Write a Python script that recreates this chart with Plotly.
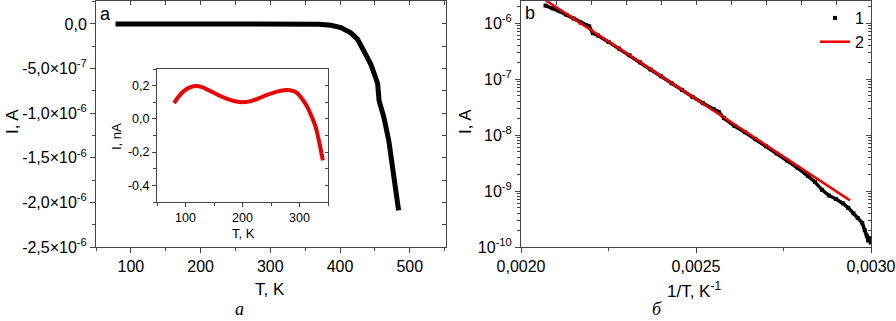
import plotly.graph_objects as go

# ---------------- data ----------------
# Panel a (main): I(T)
T_main = [78, 150, 250, 350, 370, 387, 401, 415, 425, 434, 444, 451, 454, 456, 463, 470, 477, 484]
I_main = [0, 0, 0, 0, -0.3e-8, -1.5e-8, -4e-8, -9.7e-8, -1.7e-7, -3.0e-7, -4.5e-7, -6.0e-7,
          -6.7e-7, -8.6e-7, -1.05e-6, -1.31e-6, -1.68e-6, -2.09e-6]

# Panel a (inset): I(T), nA
T_inset = [80, 88, 97, 107, 117, 130, 144, 158, 173, 187, 201, 216, 231, 243, 255, 267, 278, 288,
           296, 305, 313, 320, 328, 334, 341]
I_inset = [0.095, 0.135, 0.167, 0.188, 0.197, 0.190, 0.167, 0.142, 0.121, 0.106, 0.100, 0.108,
           0.127, 0.144, 0.158, 0.169, 0.173, 0.168, 0.155, 0.118, 0.076, 0.025, -0.045, -0.13, -0.250]

# Panel b: data (1) and fit (2)
invT_data = [0.002070, 0.002090, 0.002110, 0.002130, 0.002150, 0.002170, 0.002185, 0.002195,
             0.002205, 0.002220, 0.002250, 0.002280, 0.002310, 0.002340, 0.002370, 0.002400,
             0.002430, 0.002460, 0.002490, 0.002520, 0.002550, 0.002565, 0.002580, 0.002610,
             0.002640, 0.002670, 0.002700, 0.002730, 0.002760, 0.002790, 0.002820, 0.002840,
             0.002860, 0.002880, 0.002900, 0.002920, 0.002935, 0.002950, 0.002962, 0.002975,
             0.002982, 0.002988, 0.002992, 0.002996, 0.002999]
I_data = [2.05e-6, 1.83e-6, 1.62e-6, 1.40e-6, 1.20e-6, 1.02e-6, 9.2e-7, 8.7e-7,
          6.6e-7, 6.0e-7, 4.6e-7, 3.5e-7, 2.65e-7, 1.98e-7, 1.48e-7, 1.12e-7,
          8.4e-8, 6.4e-8, 4.8e-8, 3.7e-8, 2.9e-8, 2.6e-8, 2.0e-8, 1.45e-8,
          1.12e-8, 8.4e-9, 6.3e-9, 4.7e-9, 3.5e-9, 2.6e-9, 1.85e-9, 1.45e-9,
          1.05e-9, 8.3e-10, 7.2e-10, 6.0e-10, 5.0e-10, 4.0e-10, 3.3e-10, 2.7e-10,
          2.0e-10, 1.6e-10, 1.3e-10, 1.45e-10, 1.2e-10]
invT_fit = [0.00207, 0.00294]
I_fit = [2.56e-6, 6.8e-10]

# tick labels
a_x_ticks = [100, 200, 300, 400, 500]
a_y_ticks = [0, -5e-7, -1e-6, -1.5e-6, -2e-6, -2.5e-6]
a_y_text = ["0,0", "-5,0×10<sup>-7</sup>", "-1,0×10<sup>-6</sup>", "-1,5×10<sup>-6</sup>",
            "-2,0×10<sup>-6</sup>", "-2,5×10<sup>-6</sup>"]
in_x_ticks = [100, 200, 300]
in_y_ticks = [0.2, 0.0, -0.2, -0.4]
in_y_text = ["0,2", "0,0", "-0,2", "-0,4"]
b_x_ticks = [0.0020, 0.0025, 0.0030]
b_x_text = ["0,0020", "0,0025", "0,0030"]
b_y_ticks = [1e-10, 1e-9, 1e-8, 1e-7, 1e-6]
b_y_text = ["10<sup>-10</sup>", "10<sup>-9</sup>", "10<sup>-8</sup>", "10<sup>-7</sup>", "10<sup>-6</sup>"]

# ---------------- figure ----------------
W, H = 896, 321
FONT = "Liberation Sans, Arial, sans-serif"
AX = "#444"


def px(x):
    return x / W


def py(y):
    return 1 - y / H


fig = go.Figure()

fig.add_trace(go.Scatter(x=T_main, y=I_main, mode="lines", line=dict(color="black", width=5),
                         xaxis="x", yaxis="y", showlegend=False, hoverinfo="skip"))
fig.add_trace(go.Scatter(x=[None], y=[None], xaxis="x4", yaxis="y4", showlegend=False, hoverinfo="skip"))
fig.add_trace(go.Scatter(x=T_inset, y=I_inset, mode="lines",
                         line=dict(color="#ee0000", width=4, shape="spline", smoothing=0.8),
                         xaxis="x3", yaxis="y3", showlegend=False, hoverinfo="skip"))
fig.add_trace(go.Scatter(x=[None], y=[None], xaxis="x3", yaxis="y6", showlegend=False, hoverinfo="skip"))
fig.add_trace(go.Scatter(x=invT_data, y=I_data, mode="lines", line=dict(color="black", width=3.5),
                         xaxis="x2", yaxis="y2", showlegend=False, hoverinfo="skip"))
fig.add_trace(go.Scatter(x=invT_data, y=I_data, mode="markers", name="1",
                         marker=dict(color="black", size=4, symbol="square"),
                         xaxis="x2", yaxis="y2", showlegend=True, hoverinfo="skip"))
fig.add_trace(go.Scatter(x=invT_fit, y=I_fit, mode="lines", name="2",
                         line=dict(color="#ee0000", width=2.5),
                         xaxis="x2", yaxis="y2", showlegend=True, hoverinfo="skip"))
fig.add_trace(go.Scatter(x=[None], y=[None], xaxis="x5", yaxis="y5", showlegend=False, hoverinfo="skip"))

tickfont = dict(family=FONT, size=16, color="black")
common = dict(showline=True, linecolor=AX, linewidth=1, showgrid=False, zeroline=False,
              tickcolor=AX, ticklen=5, tickwidth=1, tickfont=tickfont, fixedrange=True,
              automargin=False)
mir = dict(showticklabels=False, showline=False, showgrid=False, zeroline=False,
           tickcolor=AX, fixedrange=True, automargin=False)

a_dom_x = [px(96), px(446)]
b_dom_x = [px(521), px(871)]
dom_y = [py(247), py(1)]

log_minor = [m * 10.0 ** e for e in range(-10, -5) for m in range(2, 10)]
small = dict(family=FONT, size=12.5, color="black")

fig.update_layout(
    template="none",
    width=W, height=H, margin=dict(l=0, r=0, t=0, b=0, pad=0), autosize=False,
    paper_bgcolor="white", plot_bgcolor="rgba(0,0,0,0)",
    xaxis=dict(domain=a_dom_x, range=[50, 552], anchor="y", mirror=True, ticks="outside",
               tickmode="array", tickvals=a_x_ticks,
               minor=dict(ticks="outside", ticklen=3, tickcolor=AX, tick0=0, dtick=50), **common),
    yaxis=dict(domain=dom_y, range=[-2.5e-6, 2.57e-7], anchor="x", mirror=True, ticks="outside",
               tickmode="array", tickvals=a_y_ticks, ticktext=a_y_text,
               minor=dict(ticks="outside", ticklen=3, tickcolor=AX, tick0=0, dtick=2.5e-7), **common),
    xaxis4=dict(overlaying="x", side="top", anchor="y4", range=[50, 552], ticks="inside",
                tickmode="linear", tick0=0, dtick=50, ticklen=4, **mir),
    yaxis4=dict(overlaying="y", side="right", anchor="x4", range=[-2.5e-6, 2.57e-7], ticks="inside",
                tickmode="linear", tick0=0, dtick=2.5e-7, ticklen=4, **mir),
    xaxis3=dict(domain=[px(157), px(328)], range=[50, 350], anchor="y3", mirror=True, ticks="outside",
                tickmode="array", tickvals=in_x_ticks,
                minor=dict(ticks="outside", ticklen=3, tickcolor=AX, tick0=0, dtick=50),
                **{**common, "tickfont": small, "ticklen": 4}),
    yaxis3=dict(domain=[py(202), py(69)], range=[-0.5, 0.3], anchor="x3", mirror=True, ticks="outside",
                tickmode="array", tickvals=in_y_ticks, ticktext=in_y_text,
                minor=dict(ticks="outside", ticklen=3, tickcolor=AX, tick0=0, dtick=0.1),
                **{**common, "tickfont": small, "ticklen": 4}),
    yaxis6=dict(overlaying="y3", side="right", anchor="x3", range=[-0.5, 0.3], ticks="inside",
                tickmode="linear", tick0=0, dtick=0.1, ticklen=3, **mir),
    xaxis2=dict(domain=b_dom_x, range=[0.0020, 0.0030], anchor="y2", mirror=True, ticks="outside",
                tickmode="array", tickvals=b_x_ticks, ticktext=b_x_text,
                minor=dict(ticks="outside", ticklen=3, tickcolor=AX, tick0=0.0020, dtick=0.00025), **common),
    yaxis2=dict(domain=dom_y, type="log", range=[-10, -5.607], anchor="x2", mirror=True, ticks="outside",
                tickmode="array", tickvals=b_y_ticks, ticktext=b_y_text,
                minor=dict(ticks="outside", ticklen=3, tickcolor=AX, tickmode="array", tickvals=log_minor),
                **common),
    xaxis5=dict(overlaying="x2", side="top", anchor="y5", range=[0.0020, 0.0030], ticks="inside",
                tickmode="linear", tick0=0.0020, dtick=0.0001, ticklen=4, **mir),
    yaxis5=dict(overlaying="y2", side="right", anchor="x5", type="log", range=[-10, -5.607], ticks="inside",
                tickmode="array", tickvals=b_y_ticks, ticklen=5,
                minor=dict(ticks="inside", ticklen=3, tickcolor=AX, tickmode="array", tickvals=log_minor),
                **mir),
    legend=dict(x=px(815), xanchor="left", y=py(1), yanchor="top",
                bgcolor="rgba(0,0,0,0)",
                font=dict(family=FONT, size=16, color="black"), tracegroupgap=0, itemwidth=30),
)

ann = []


def text(x, y, s, size=17, angle=0, family=FONT, italic=False):
    f = dict(family=family, size=size, color="black")
    if italic:
        f["style"] = "italic"
    ann.append(dict(x=px(x), y=py(y), xref="paper", yref="paper", text=s, showarrow=False,
                    xanchor="center", yanchor="middle", textangle=angle, font=f))


text(270, 289, "T, K")
text(694, 290, "1/T, K<sup>-1</sup>")
text(12, 122, "I, A", angle=-90)
text(465, 122, "I, A", angle=-90)
text(243, 233, "T, K", size=13)
text(117, 137, "I, nA", size=13, angle=-90)
text(105, 14, "a", size=18)
text(530, 13, "b", size=18)
text(239, 309, "a", size=18, family="Liberation Serif, Times New Roman, serif", italic=True)
text(657, 309, "б", size=18, family="Liberation Serif, Times New Roman, serif", italic=True)
fig.update_layout(annotations=ann)

fig.write_html("out.html", config={"displayModeBar": False},
               post_script="document.body.style.margin='0';document.body.style.overflow='hidden';")
